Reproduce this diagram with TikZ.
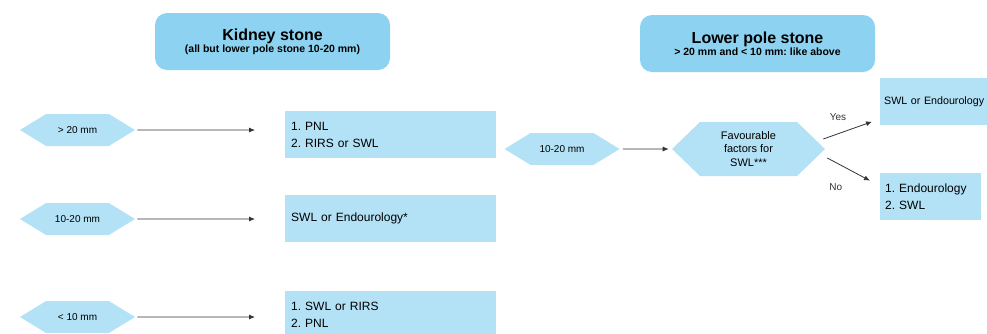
\documentclass[tikz,border=0pt]{standalone}
\usepackage{fontspec}
\setmainfont{Liberation Sans}
\usetikzlibrary{shapes.symbols,arrows.meta}
\definecolor{headblue}{HTML}{8DD3F1}
\definecolor{boxblue}{HTML}{B3E1F5}
\definecolor{arrowgray}{HTML}{333333}
\frenchspacing
\begin{document}
\begin{tikzpicture}[x=1pt,y=-1pt,
  head/.style={rounded corners=12pt,fill=headblue,minimum width=235pt,minimum height=57pt,align=center,inner sep=0pt},
  size/.style={signal,signal to=west and east,signal pointer angle=63,fill=boxblue,minimum width=115pt,minimum height=32pt,inner sep=0pt,font=\fontsize{10}{12}\selectfont},
  box/.style={fill=boxblue,anchor=north west,text width=199pt,inner xsep=6pt,inner ysep=0pt,minimum height=47pt,align=left,font=\fontsize{12}{17}\selectfont},
  arr/.style={-{Latex[length=6pt,width=5pt]},color=arrowgray,line width=0.8pt}]
\useasboundingbox (0,0) rectangle (987,333);
\clip (0,0) rectangle (987,333);
\node[head] (K) at (272.5,41.5) {{\fontsize{16}{19}\selectfont\bfseries Kidney stone}\\{\fontsize{10.5}{13}\selectfont\bfseries (all but lower pole stone 10-20 mm)}};
\node[head] (L) at (757.5,43.5) {{\fontsize{16}{19}\selectfont\bfseries Lower pole stone}\\{\fontsize{10.5}{13}\selectfont\bfseries > 20 mm and < 10 mm: like above}};
\node[size] (S1) at (77.5,130) {> 20 mm};
\node[size] (S2) at (77.5,219) {10-20 mm};
\node[size] (S3) at (77.5,317) {< 10 mm};
\node[box] (T1) at (285,111) {1. PNL\\2. RIRS or SWL};
\node[box] (T2) at (285,195) {SWL or Endourology*};
\node[box] (T3) at (285,291) {1. SWL or RIRS\\2. PNL};
\node[size] (M) at (562,149) {10-20 mm};
\node[size,signal pointer angle=88,minimum width=153pt,minimum height=54pt,font=\fontsize{11}{13.5}\selectfont,align=center] (F) at (748.5,149) {Favourable\\factors for\\SWL***};
\node[box,inner xsep=4pt,font=\fontsize{10.7}{17}\selectfont] (Y) at (880,78) {SWL or Endourology};
\node[box,inner xsep=5pt,text width=91pt] (N) at (880,173) {1. Endourology\\2. SWL};
\path[arr,font=\fontsize{10}{12}\selectfont]
  (S1) edge[shorten <=2pt,shorten >=30pt] (S1 -| T1.west)
  (S2) edge[shorten <=2pt,shorten >=30pt] (S2 -| T2.west)
  (S3) edge[shorten <=2pt,shorten >=30pt] (S3 -| T3.west)
  (M) edge[shorten <=3pt,shorten >=3pt] (F)
  ([xshift=-2pt,yshift=10pt]F.east) edge node[pos=0.3,above=9pt] {Yes} ([xshift=-8pt,yshift=-20pt]Y.west)
  ([xshift=2pt,yshift=-9pt]F.east) edge node[pos=0.2,below=17pt] {No} ([xshift=-10pt,yshift=16pt]N.west)
;
\end{tikzpicture}
\end{document}
